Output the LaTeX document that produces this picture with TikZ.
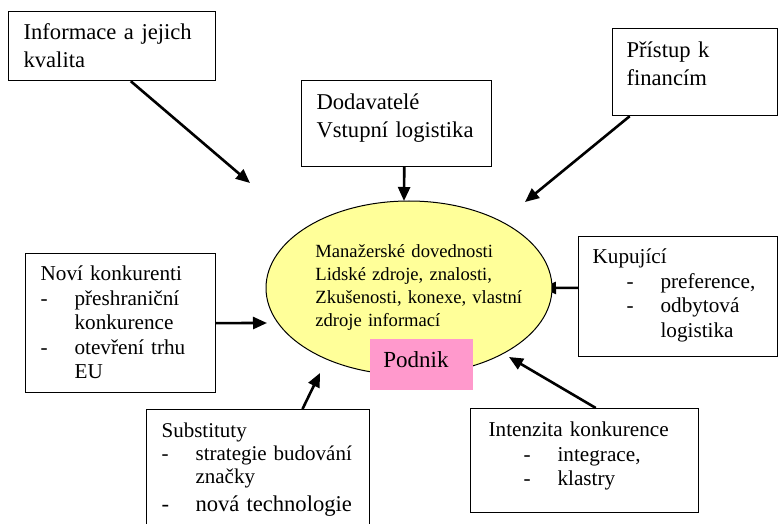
\documentclass[tikz,border=0pt]{standalone}
\usepackage{fontspec}
\setmainfont{Liberation Serif}
\usetikzlibrary{shapes.geometric,arrows.meta}
\pgfdeclarelayer{edgelayer}
\pgfdeclarelayer{nodelayer}
\pgfsetlayers{edgelayer,nodelayer,main}
\definecolor{zluta}{RGB}{255,255,153}
\definecolor{ruzova}{RGB}{255,153,204}
\tikzstyle{none}=[inner sep=0pt]
\tikzstyle{box}=[draw,rectangle,line width=0.6pt,anchor=north west,align=left,inner ysep=0pt,inner xsep=7.5pt]
\tikzstyle{velky}=[font=\fontsize{11.3}{14}\selectfont]
\tikzstyle{maly}=[font=\fontsize{10.6}{12.3}\selectfont]
\tikzstyle{elipsa}=[draw,ellipse,line width=0.5pt,fill=zluta,inner sep=0pt,minimum width=143pt,minimum height=87pt]
\tikzstyle{stitek}=[rectangle,fill=ruzova,anchor=north west,align=left,inner ysep=0pt,inner xsep=6.5pt]
\tikzstyle{sipka}=[line width=1.3pt,-{Triangle[length=7pt,width=6pt]}]
\newcommand{\polozka}[2]{\hspace*{#1}\makebox[17pt][l]{-}#2}
\newcommand{\dalsi}[2]{\hspace*{#1}\hspace*{17pt}#2}

\begin{document}
\begin{tikzpicture}[x=0.5pt,y=-0.5pt]
	\useasboundingbox (0,0) rectangle (778,524);
	\begin{pgfonlayer}{nodelayer}
		\node [style=box, style=velky, text width=88.5pt, text height=14pt, text depth=20.5pt] (0) at (8,11) {Informace a jejich\\kvalita};
		\node [style=box, style=velky, inner xsep=7pt, text width=68.5pt, text height=14.5pt, text depth=29pt] (1) at (612,28) {Přístup k\\financím};
		\node [style=box, style=velky, text width=80pt, text height=14.5pt, text depth=28.5pt] (2) at (301,80) {Dodavatelé\\Vstupní logistika};
		\node [style=elipsa] (3) at (409,288) {};
		\node [style=none, anchor=base west, align=left, text width=112pt, font=\fontsize{9.3}{11.4}\selectfont] (4) at (315,258) {Manažerské dovednosti\\Lidské zdroje, znalosti,\\Zkušenosti, konexe, vlastní\\zdroje informací};
		\node [style=stitek, font=\fontsize{11.5}{14}\selectfont, text width=38.5pt, text height=14pt, text depth=11.5pt] (5) at (370,339) {Podnik};
		\node [style=box, style=maly, text width=80pt, text height=13.5pt, text depth=56pt] (6) at (25,253) {Noví konkurenti\\\polozka{0pt}{přeshraniční}\\\dalsi{0pt}{konkurence}\\\polozka{0pt}{otevření trhu}\\\dalsi{0pt}{EU}};
		\node [style=box, style=maly, inner xsep=7pt, text width=85.5pt, text height=13.5pt, text depth=46.5pt] (7) at (578,236) {Kupující\\\polozka{17pt}{preference,}\\\polozka{17pt}{odbytová}\\\dalsi{17pt}{logistika}};
		\node [style=box, style=maly, inner xsep=9pt, text width=96pt, text height=14pt, text depth=38pt] (8) at (470,408) {Intenzita konkurence\\\polozka{17.5pt}{integrace,}\\\polozka{17.5pt}{klastry}};
		\node [style=box, font=\fontsize{10.5}{11.5}\selectfont, text width=96.5pt, text height=14pt, text depth=46.5pt] (9) at (146,409) {Substituty\\\polozka{0pt}{strategie budování}\\\dalsi{0pt}{značky}\\[2.5pt]{\fontsize{11.3}{14}\selectfont\polozka{0pt}{nová technologie}}};
		\coordinate (10) at (250,183);
		\coordinate (11) at (525,202);
		\coordinate (12) at (404,201);
		\coordinate (13) at (267,323);
		\coordinate (14) at (542,288);
		\coordinate (15) at (509,357);
		\coordinate (16) at (320,373);
	\end{pgfonlayer}
	\begin{pgfonlayer}{edgelayer}
		\draw [style=sipka] (0.-62) to (10);
		\draw [style=sipka] (1.214) to (11);
		\draw [style=sipka] (2.-80) to (12);
		\draw [style=sipka] (6.east) to (13);
		\draw [style=sipka] (7.175) to (14);
		\draw [style=sipka] (8.78) to (15);
		\draw [style=sipka] (9.54) to (16);
	\end{pgfonlayer}
\end{tikzpicture}
\end{document}
